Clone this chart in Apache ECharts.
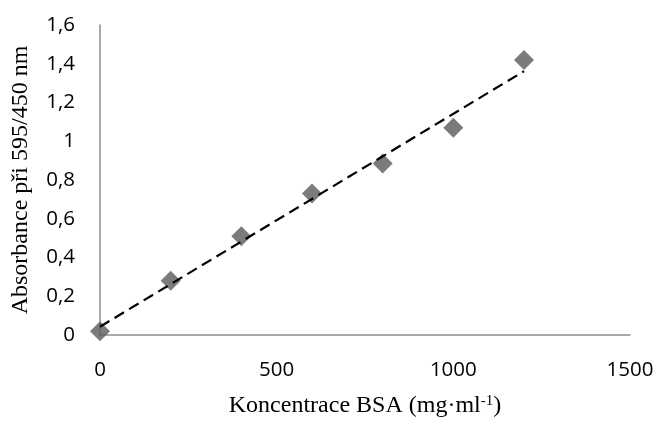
<!DOCTYPE html>
<html>
<head>
<meta charset="utf-8">
<script src="https://cdn.jsdelivr.net/npm/echarts@6/dist/echarts.min.js"></script>
<style>
  html, body { margin: 0; padding: 0; background: #ffffff; }
  #chart { width: 659px; height: 423px; }
</style>
</head>
<body>
<div id="chart"></div>
<script>
// BSA calibration: concentration vs. absorbance ratio
const concentrations = [0, 200, 400, 600, 800, 1000, 1200];
const absorbances = [0.02, 0.28, 0.51, 0.73, 0.885, 1.07, 1.42];
const xTicks = [0, 500, 1000, 1500];
const yTicks = [0, 0.2, 0.4, 0.6, 0.8, 1, 1.2, 1.4, 1.6];

// Least-squares linear trendline over the measured points
function linearFit(xs, ys) {
  const n = xs.length;
  const mx = xs.reduce((a, b) => a + b, 0) / n;
  const my = ys.reduce((a, b) => a + b, 0) / n;
  let sxy = 0, sxx = 0;
  for (let i = 0; i < n; i++) {
    sxy += (xs[i] - mx) * (ys[i] - my);
    sxx += (xs[i] - mx) * (xs[i] - mx);
  }
  const slope = sxy / sxx;
  return { slope, intercept: my - slope * mx };
}
const fit = linearFit(concentrations, absorbances);
const xMin = Math.min(...concentrations);
const xMax = Math.max(...concentrations);
const trend = [
  [xMin, fit.intercept + fit.slope * xMin],
  [xMax, fit.intercept + fit.slope * xMax]
];

const points = concentrations.map((c, i) => [c, absorbances[i]]);

const tickFont = { fontFamily: 'Open Sans', fontSize: 20.5, color: '#000000' };
const axisLineStyle = { color: '#8c8c8c', width: 1.5 };

const chart = echarts.init(document.getElementById('chart'), null, { renderer: 'canvas' });
chart.setOption({
  animation: false,
  backgroundColor: '#ffffff',
  grid: { left: 100, right: 29, top: 25, bottom: 87 },
  xAxis: {
    type: 'value',
    min: xTicks[0],
    max: xTicks[xTicks.length - 1],
    interval: xTicks[1] - xTicks[0],
    name: 'Koncentrace BSA (mg·ml{sup|-1})',
    nameLocation: 'middle',
    nameGap: 59,
    nameTextStyle: {
      fontFamily: 'Liberation Serif',
      fontSize: 24,
      color: '#000000',
      rich: {
        sup: { fontFamily: 'Liberation Serif', fontSize: 15, color: '#000000', verticalAlign: 'top', padding: [0, 0, 8, 0] }
      }
    },
    axisLine: { show: true, lineStyle: axisLineStyle },
    axisTick: { show: false },
    splitLine: { show: false },
    axisLabel: Object.assign({
      margin: 25,
      formatter: v => String(v)
    }, tickFont)
  },
  yAxis: {
    type: 'value',
    min: yTicks[0],
    max: yTicks[yTicks.length - 1],
    interval: 0.2,
    name: 'Absorbance při 595/450 nm',
    nameLocation: 'middle',
    nameRotate: 90,
    nameGap: 67,
    nameTextStyle: { fontFamily: 'Liberation Serif', fontSize: 24, color: '#000000' },
    axisLine: { show: true, lineStyle: axisLineStyle },
    axisTick: { show: false },
    splitLine: { show: false },
    axisLabel: Object.assign({
      margin: 25,
      formatter: v => String(Math.round(v * 10) / 10).replace('.', ',')
    }, tickFont)
  },
  series: [
    {
      name: 'Měření',
      type: 'scatter',
      data: points,
      symbol: 'diamond',
      symbolSize: 20,
      itemStyle: { color: '#5a5a5a' },
      z: 2
    },
    {
      name: 'Lineární trend',
      type: 'line',
      data: trend,
      showSymbol: false,
      symbol: 'none',
      lineStyle: { color: '#000000', width: 2.2, type: [11, 6] },
      z: 3
    }
  ]
});
</script>
</body>
</html>
